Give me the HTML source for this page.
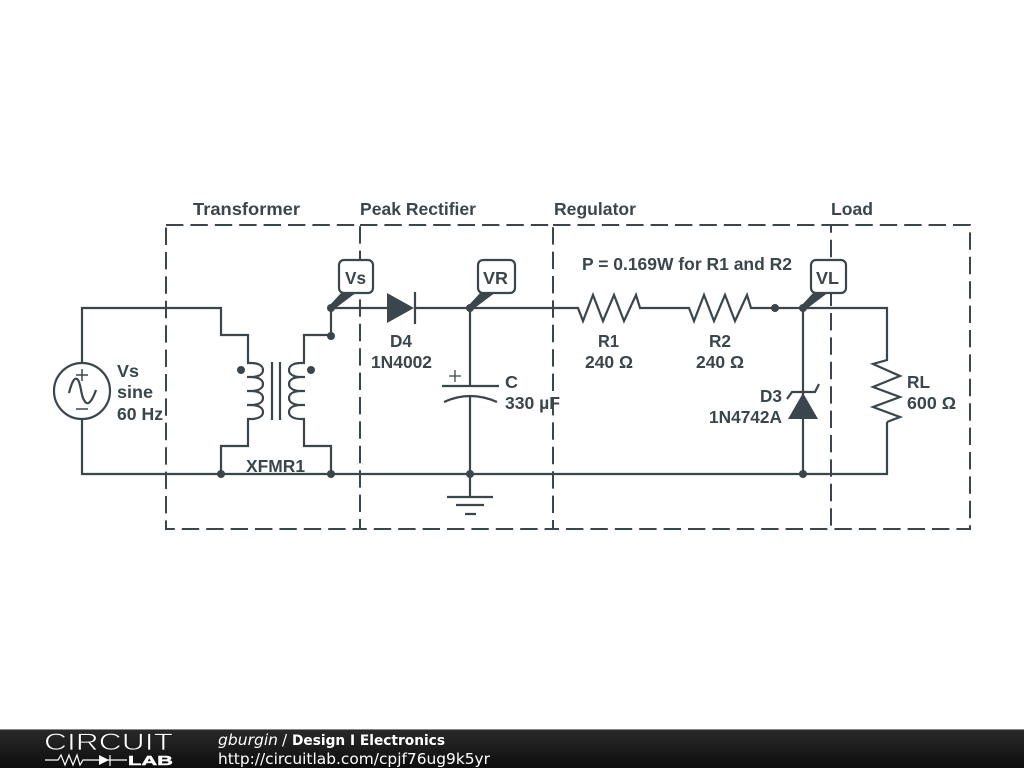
<!DOCTYPE html>
<html><head><meta charset="utf-8"><style>
html,body{margin:0;padding:0;background:#fff;width:1024px;height:768px;overflow:hidden}
svg{display:block}
.t{font-family:"Liberation Sans",sans-serif;font-weight:bold;font-size:17.5px;fill:#3b464c}
</style></head><body>
<svg width="1024" height="768" viewBox="0 0 1024 768" xmlns="http://www.w3.org/2000/svg">
<defs><linearGradient id="g" x1="0" y1="0" x2="0" y2="1"><stop offset="0" stop-color="#2a2a2a"/><stop offset="1" stop-color="#0d0d0d"/></linearGradient></defs>
<rect width="1024" height="768" fill="#fff"/>
<g fill="none" stroke="#3b464c" stroke-width="2" stroke-dasharray="17.4 7">
<path d="M166 225H360V529H166Z"/>
<path d="M360 225H553V529H360"/>
<path d="M553 225H831V529H553"/>
<path d="M831 225H970V529H831"/>
</g>
<g fill="none" stroke="#3b464c" stroke-width="2.2">
<path d="M82 363V308H221V335H248V363"/>
<path d="M82 419V474H887V422"/>
<path d="M248 419V446H221V474"/>
<path d="M331 308V335H304V363"/>
<path d="M304 419V446H331V474"/>
<path d="M247 363H251C259 363 263 366 263 370C263 374 259 377 251 377H247M251 377C259 377 263 380 263 384C263 388 259 391 251 391H247M251 391C259 391 263 394 263 398C263 402 259 405 251 405H247M251 405C259 405 263 408 263 412C263 416 259 419 251 419H247"/>
<path d="M305 363H301C293 363 289 366 289 370C289 374 293 377 301 377H305M301 377C293 377 289 380 289 384C289 388 293 391 301 391H305M301 391C293 391 289 394 289 398C289 402 293 405 301 405H305M301 405C293 405 289 408 289 412C289 416 293 419 301 419H305"/>
<path d="M272 362V420M280 362V420"/>
<circle cx="82" cy="391" r="28"/>
<path d="M69 393C72 381 75 376 78 380C81 384 81 396 84 400C87 406 91 404 96 390"/>
<path d="M76 375H88M82 369V381M76 409H88" stroke-width="1.5"/>
<path d="M331 308H387M415 308H578L583 321L593 295L603 321L614 295L624 321L636 295L640 308H689L694 321L704 295L714 321L725 295L735 321L747 295L751 308H887V360L873 364L900 376L873 387L900 397L873 407L900 417L887 422"/>
<path d="M415 292V324"/>
<path d="M470 308V386M470 396V474M442 386H499M444 402Q470 390 497 402"/>
<path d="M455 370V382M449 376H461" stroke-width="1.3"/>
<path d="M470 474V497M447 497H493M456 505H484M465 514H476"/>
<path d="M803 308V474M787 399L792 392H815L819 384"/>
<g fill="#fff">
<rect x="339" y="260" width="34" height="33" rx="5"/>
<rect x="478" y="260" width="37" height="33" rx="5"/>
<rect x="811" y="260" width="35" height="33" rx="5"/>
</g>
</g>
<g fill="#3b464c">
<path d="M387 293V323L414 308Z"/>
<path d="M803 393L788 419H818Z"/>
<path d="M329 306L342 292H357L333 310Z"/>
<path d="M468 306L481 292H496L472 310Z"/>
<path d="M801 306L814 292H829L805 310Z"/>
<circle cx="241" cy="370" r="4"/><circle cx="311" cy="370" r="4"/>
<circle cx="331" cy="308" r="4"/><circle cx="331" cy="336" r="4"/>
<circle cx="221" cy="474" r="4"/><circle cx="331" cy="474" r="4"/>
<circle cx="470" cy="308" r="4"/><circle cx="470" cy="474" r="4"/>
<circle cx="775" cy="308" r="4"/><circle cx="803" cy="308" r="4"/><circle cx="803" cy="474" r="4"/>
</g>
<g>
<text class="t" x="193" y="215" textLength="107" lengthAdjust="spacingAndGlyphs">Transformer</text>
<text class="t" x="360" y="215" textLength="116" lengthAdjust="spacingAndGlyphs">Peak Rectifier</text>
<text class="t" x="554" y="215" textLength="82" lengthAdjust="spacingAndGlyphs">Regulator</text>
<text class="t" x="831" y="215" textLength="42" lengthAdjust="spacingAndGlyphs">Load</text>
<text class="t" x="582" y="270" textLength="210" lengthAdjust="spacingAndGlyphs">P = 0.169W for R1 and R2</text>
<text class="t" x="117" y="377" textLength="22" lengthAdjust="spacingAndGlyphs">Vs</text>
<text class="t" x="117" y="398" textLength="36" lengthAdjust="spacingAndGlyphs">sine</text>
<text class="t" x="117" y="420" textLength="46" lengthAdjust="spacingAndGlyphs">60 Hz</text>
<text class="t" x="246" y="472" textLength="59" lengthAdjust="spacingAndGlyphs">XFMR1</text>
<text class="t" x="345" y="284" textLength="21" lengthAdjust="spacingAndGlyphs">Vs</text>
<text class="t" x="483" y="284" textLength="25" lengthAdjust="spacingAndGlyphs">VR</text>
<text class="t" x="816" y="284" textLength="23" lengthAdjust="spacingAndGlyphs">VL</text>
<text class="t" x="390" y="347" textLength="22" lengthAdjust="spacingAndGlyphs">D4</text>
<text class="t" x="371" y="368" textLength="61" lengthAdjust="spacingAndGlyphs">1N4002</text>
<text class="t" x="505" y="388" textLength="13" lengthAdjust="spacingAndGlyphs">C</text>
<text class="t" x="505" y="409" textLength="55" lengthAdjust="spacingAndGlyphs">330 µF</text>
<text class="t" x="598" y="347" textLength="21" lengthAdjust="spacingAndGlyphs">R1</text>
<text class="t" x="585" y="368" textLength="48" lengthAdjust="spacingAndGlyphs">240 Ω</text>
<text class="t" x="709" y="347" textLength="22" lengthAdjust="spacingAndGlyphs">R2</text>
<text class="t" x="696" y="368" textLength="48" lengthAdjust="spacingAndGlyphs">240 Ω</text>
<text class="t" x="760" y="402" textLength="22" lengthAdjust="spacingAndGlyphs">D3</text>
<text class="t" x="709" y="423" textLength="73" lengthAdjust="spacingAndGlyphs">1N4742A</text>
<text class="t" x="907" y="388" textLength="23" lengthAdjust="spacingAndGlyphs">RL</text>
<text class="t" x="907" y="409" textLength="49" lengthAdjust="spacingAndGlyphs">600 Ω</text>
</g>
<rect y="729" width="1024" height="39" fill="url(#g)"/>
<rect y="729" width="1024" height="1" fill="#888"/>
<text x="44" y="750" font-family="Liberation Sans,sans-serif" font-size="24" fill="#fff" stroke="#1c1c1c" stroke-width="0.7" textLength="129" lengthAdjust="spacingAndGlyphs">CIRCUIT</text>
<text x="128" y="765" font-family="Liberation Sans,sans-serif" font-weight="bold" font-size="13" fill="#fff" stroke="#fff" stroke-width="0.4" textLength="45" lengthAdjust="spacingAndGlyphs">LAB</text>
<g fill="none" stroke="#fff" stroke-width="1.2">
<path d="M45 760H58L61 755L65 765L69 755L73 765L77 755L80 765L83 760H127"/>
<path d="M110 755V766"/>
</g>
<path d="M99 755V765L109 760Z" fill="#fff"/>
<text x="218" y="745" font-family="DejaVu Sans,sans-serif" font-size="15" font-style="italic" fill="#fff" textLength="60" lengthAdjust="spacingAndGlyphs">gburgin</text>
<text x="282" y="745" font-family="DejaVu Sans,sans-serif" font-size="15" fill="#fff">/</text>
<text x="292" y="745" font-family="DejaVu Sans,sans-serif" font-size="14" font-weight="bold" fill="#fff" textLength="153" lengthAdjust="spacingAndGlyphs">Design I Electronics</text>
<text x="218" y="764" font-family="DejaVu Sans,sans-serif" font-size="15.4" fill="#fff" textLength="272" lengthAdjust="spacingAndGlyphs">http://circuitlab.com/cpjf76ug9k5yr</text>
</svg>
</body></html>
